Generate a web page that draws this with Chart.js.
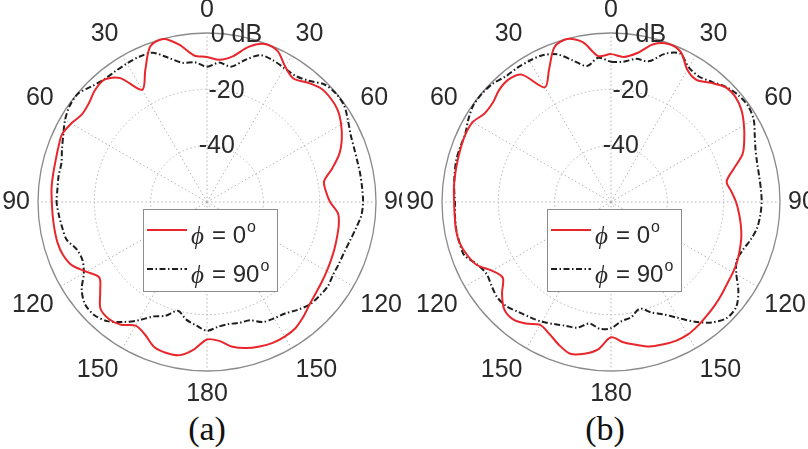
<!DOCTYPE html>
<html>
<head>
<meta charset="utf-8">
<script src="https://cdn.jsdelivr.net/npm/chart.js@4.4.1/dist/chart.umd.min.js"></script>
<style>
  html, body { margin: 0; padding: 0; background: #fff; }
  #wrap { position: relative; width: 808px; height: 449px; overflow: hidden; background: #fff; }
  .panel { position: absolute; top: 0; height: 449px; overflow: hidden; background: #fff; }
  .panel canvas { position: absolute; left: 0; top: -5px; }
  .cap { position: absolute; left: 0; top: 412px; text-align: center;
         font-family: "Liberation Serif", "Times New Roman", serif; font-size: 34px; line-height: 34px; color: #111; }
</style>
</head>
<body>
<div id="wrap">
  <div class="panel" style="left:0;width:402px">
    <canvas id="chartA" width="414" height="414"></canvas>
    <div class="cap" style="width:414px">(a)</div>
  </div>
  <div class="panel" style="left:402px;width:406px">
    <canvas id="chartB" width="418" height="414"></canvas>
    <div class="cap" style="width:406px">(b)</div>
  </div>
</div>
<script>
// theta in degrees, clockwise from the top, one sample every 5 degrees
const angles = Array.from({ length: 72 }, (_, i) => i * 5);

// normalized gain in dB, panel (a)
const redA = [
  -8.5, -9.3, -7.5, -3.0, -0.3, -0.8, -4.5, -6.5, -4.6, -2.9, -2.7, -3.3,
  -5.0, -7.2, -10.0, -14.0, -17.8, -17.6, -16.3, -13.3, -12.5, -12.2, -11.8, -11.4,
  -10.9, -10.3, -9.6, -8.5, -6.8, -5.3, -4.8, -4.8, -5.4, -6.3, -7.8, -10.5,
  -11.2, -7.5, -4.8, -4.5, -5.2, -8.0, -9.3, -6.8, -5.8, -6.5, -10.5, -13.3,
  -10.5, -7.0, -5.5, -5.0, -5.0, -5.0, -4.9, -4.6, -4.5, -4.3, -3.8, -3.2,
  -4.3, -5.8, -5.3, -3.8, -3.3, -6.3, -14.0, -8.2, -1.2, -0.1, -3.3, -7.8
];
const blackA = [
  -12.0, -10.3, -11.2, -7.8, -4.5, -4.5, -5.1, -5.3, -3.8, -1.0, -0.2, -0.5,
  -2.2, -3.7, -4.4, -4.7, -4.7, -4.7, -4.6, -5.0, -6.3, -7.4, -8.1, -8.3,
  -8.3, -7.7, -8.0, -8.5, -10.0, -11.7, -12.3, -13.0, -15.3, -15.6, -16.0, -15.5,
  -14.3, -16.0, -17.6, -20.0, -17.0, -15.2, -11.5, -8.0, -4.8, -3.3, -3.5, -5.7,
  -9.5, -11.2, -10.8, -8.4, -7.8, -7.2, -6.6, -6.7, -6.5, -6.5, -5.2, -3.7,
  -1.8, -0.5, -0.2, -2.0, -3.2, -3.3, -3.2, -3.1, -3.6, -7.0, -9.8, -10.2
];

// normalized gain in dB, panel (b)
const redB = [
  -7.5, -8.3, -6.3, -2.0, -0.3, -1.3, -5.8, -7.1, -4.8, -2.4, -2.2, -3.4,
  -5.5, -7.8, -10.3, -15.0, -18.3, -17.1, -15.6, -14.4, -13.2, -12.1, -11.3, -10.5,
  -10.0, -9.6, -8.8, -8.0, -7.2, -6.3, -5.6, -5.6, -6.2, -6.9, -8.5, -10.0,
  -12.0, -7.5, -5.3, -4.2, -6.0, -8.3, -9.6, -7.3, -5.7, -6.3, -9.5, -13.1,
  -11.2, -7.3, -5.5, -4.3, -4.1, -4.3, -4.3, -4.0, -3.8, -3.6, -3.3, -3.0,
  -3.3, -5.2, -5.2, -3.8, -3.3, -4.8, -13.0, -8.0, -1.4, -0.1, -2.4, -8.0
];
const blackB = [
  -10.2, -10.0, -8.4, -8.3, -4.0, -1.9, -4.8, -5.6, -4.3, -2.2, -1.0, -0.6,
  -1.5, -3.7, -5.4, -6.3, -6.6, -6.6, -6.5, -6.8, -7.3, -8.6, -10.2, -10.8,
  -8.6, -4.8, -2.0, -1.8, -4.2, -8.1, -12.5, -16.0, -18.3, -20.8, -18.5, -17.5,
  -15.2, -14.8, -16.2, -13.8, -13.2, -12.2, -10.9, -10.0, -9.0, -7.6, -7.3, -8.2,
  -9.0, -7.6, -4.6, -4.3, -4.2, -4.4, -4.6, -4.1, -3.6, -3.1, -3.0, -2.9,
  -1.5, -0.3, -0.2, -0.6, -1.8, -1.9, -2.1, -2.5, -4.2, -8.0, -11.0, -8.6
];

const phiValues = ['0', '90'];
const rMin = -60, rMax = 0, rStep = 20;

const textColor = '#2a2a2a';
const redColor = '#e8262b';
const blackColor = '#1e1e1e';
const gridColor = '#b4b4b4';

function angleText(a) {
  if (a % 30 !== 0) return '';
  return String(a <= 180 ? a : 360 - a);
}

// dB labels sit along a spoke 10 degrees right of the top, like MATLAB's polar
const dbLabels = {
  id: 'dbLabels',
  beforeDatasetsDraw(chart) {
    const r = chart.scales.r, ctx = chart.ctx;
    const a = 10 * Math.PI / 180;
    ctx.save();
    ctx.font = '25px "Liberation Sans", Arial, sans-serif';
    ctx.fillStyle = textColor;
    ctx.textAlign = 'center';
    ctx.textBaseline = 'middle';
    r.ticks.forEach(t => {
      if (t.value === rMin) return;
      const d = r.getDistanceFromCenterForValue(t.value);
      const txt = t.value === 0 ? '0 dB' : String(t.value);
      ctx.fillText(txt, r.xCenter + d * Math.sin(a), r.yCenter - d * Math.cos(a));
    });
    ctx.restore();
  }
};

const legendBox = {
  id: 'legendBox',
  afterDatasetsDraw(chart) {
    const r = chart.scales.r, ctx = chart.ctx;
    const x = Math.round(r.xCenter - 64), y = Math.round(r.yCenter + 7);
    ctx.save();
    ctx.fillStyle = '#fff';
    ctx.fillRect(x, y, 134, 82);
    ctx.strokeStyle = '#8c8c8c';
    ctx.lineWidth = 1;
    ctx.strokeRect(x + 0.5, y + 0.5, 134, 82);
    chart.data.datasets.forEach((ds, i) => {
      const ly = y + 21 + i * 39;
      ctx.strokeStyle = ds.borderColor;
      ctx.lineWidth = ds.borderWidth;
      ctx.setLineDash(ds.borderDash || []);
      ctx.beginPath();
      ctx.moveTo(x + 4, ly);
      ctx.lineTo(x + 44, ly);
      ctx.stroke();
      ctx.setLineDash([]);
      ctx.fillStyle = textColor;
      ctx.textBaseline = 'middle';
      ctx.textAlign = 'left';
      ctx.font = 'italic 25px "Liberation Serif", "DejaVu Serif", serif';
      ctx.fillText('\u03D5', x + 48, ly + 7);
      ctx.font = '24px "Liberation Sans", Arial, sans-serif';
      const s = '= ' + phiValues[i];
      ctx.fillText(s, x + 69, ly + 6);
      const w = ctx.measureText(s).width;
      ctx.font = '16px "Liberation Sans", Arial, sans-serif';
      ctx.fillText('o', x + 70 + w, ly - 2);
    });
    ctx.restore();
  }
};

function makeChart(id, red, black) {
  return new Chart(document.getElementById(id), {
    type: 'radar',
    data: {
      labels: angles,
      datasets: [
        { label: '\u03D5 = 0\u00B0', data: red, borderColor: redColor, borderWidth: 2, fill: false },
        { label: '\u03D5 = 90\u00B0', data: black, borderColor: blackColor, borderWidth: 2, borderDash: [6, 2.5, 1.5, 2.5], fill: false }
      ]
    },
    options: {
      responsive: false,
      animation: false,
      layout: { padding: 0 },
      elements: {
        point: { radius: 0, hoverRadius: 0 },
        line: { tension: 0.3 }
      },
      plugins: { legend: { display: false }, tooltip: { enabled: false } },
      scales: {
        r: {
          min: rMin,
          max: rMax,
          ticks: { stepSize: rStep, display: false },
          grid: {
            circular: true,
            color: c => c.tick && c.tick.value === rMax ? '#8a8a8a' : gridColor,
            lineWidth: c => c.tick && c.tick.value === rMax ? 1.3 : 1
          },
          border: {
            dash: c => c.tick && c.tick.value === rMax ? [] : [1.5, 2.5]
          },
          angleLines: {
            color: gridColor,
            lineWidth: c => c.index % 6 === 0 ? 1 : 0,
            borderDash: [1.5, 2.5]
          },
          pointLabels: {
            padding: 8,
            color: textColor,
            font: { family: '"Liberation Sans", Arial, sans-serif', size: 25 },
            callback: v => angleText(v)
          }
        }
      }
    },
    plugins: [dbLabels, legendBox]
  });
}

makeChart('chartA', redA, blackA);
makeChart('chartB', redB, blackB);
</script>
</body>
</html>
